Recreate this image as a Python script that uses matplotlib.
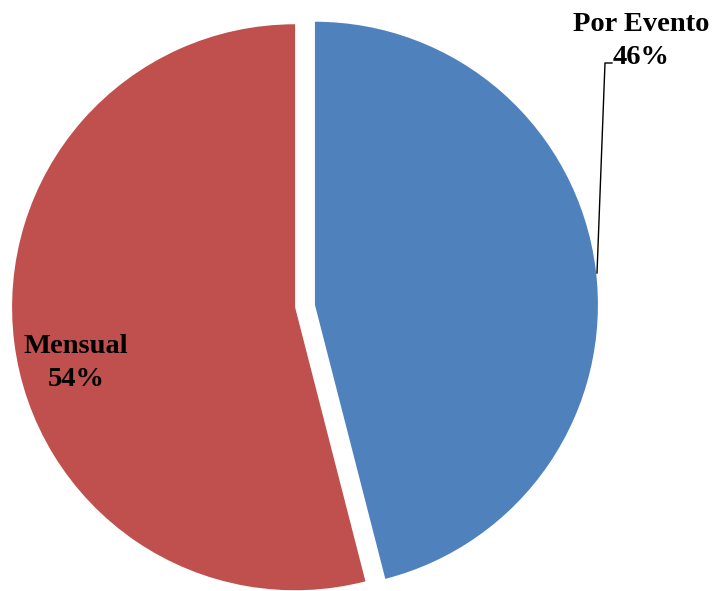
import matplotlib.pyplot as plt

# share of payments by type
labels = ['Por Evento', 'Mensual']
shares = [46, 54]
colors = ['#4F81BD', '#C0504D']

W, H = 717, 591
fig = plt.figure(figsize=(W / 100, H / 100), dpi=100)
ax = fig.add_axes([0, 0, 1, 1])

radius = 283
center = (305, H - 306)
# explode is in data units here (pixels)
ax.pie(shares, colors=colors, startangle=90, counterclock=False,
       radius=radius, center=center, explode=[10, 10], frame=True)
ax.set_xlim(0, W)
ax.set_ylim(0, H)
ax.set_aspect('equal')
ax.axis('off')

font = dict(family='Liberation Serif', fontweight='bold', fontsize=20.5,
            color='black', ha='center', va='center', linespacing=1.4)

# label for the blue slice, outside with a leader line
ax.text(641, H - 41, f'{labels[0]}\n{shares[0]}%', **font)
ax.plot([597, 605, 612], [H - 273, H - 63, H - 63], color='black', lw=1)

# label for the red slice, inside
ax.text(76, H - 363, f'{labels[1]}\n{shares[1]}%', **font)

fig.savefig('out.png', dpi=100)
